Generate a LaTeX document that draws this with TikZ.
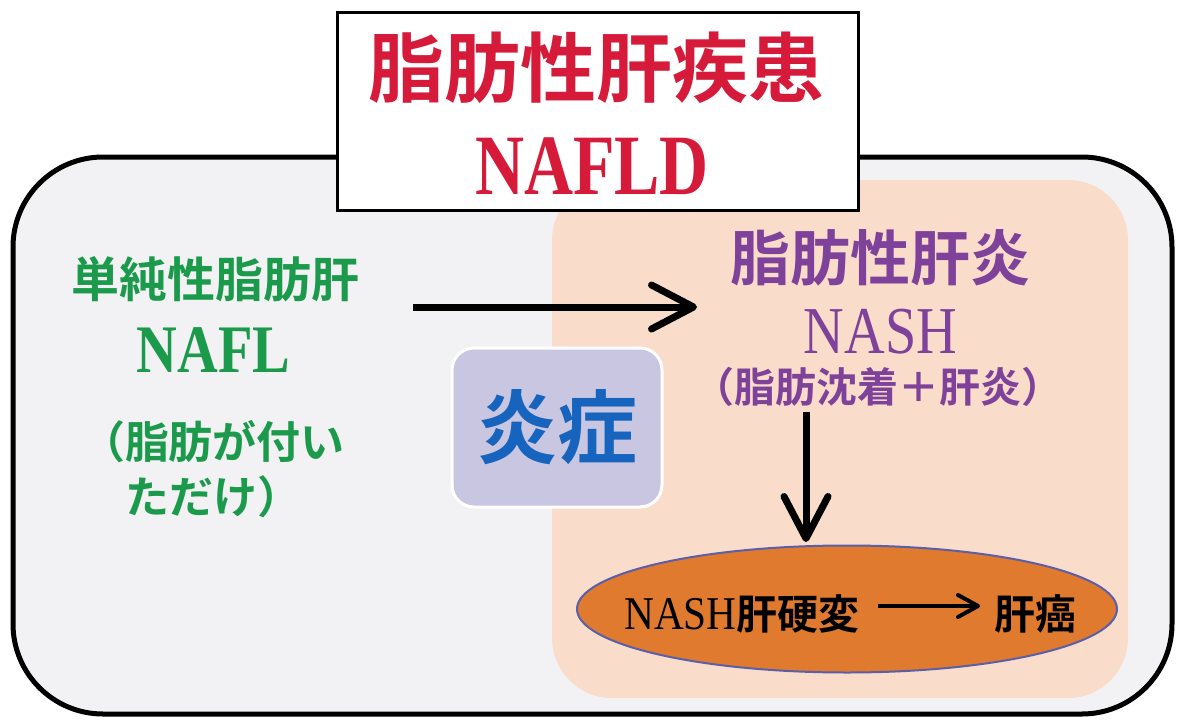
\documentclass[tikz,border=0pt]{standalone}
\usepackage{fontspec}
\newfontfamily\cjk{Noto Sans CJK JP}[BoldFont={Noto Sans CJK JP Bold}]
\newfontfamily\lserif{Liberation Serif}
\usetikzlibrary{arrows.meta,shapes.geometric}
\definecolor{titlered}{RGB}{214,26,58}
\definecolor{nafgreen}{RGB}{28,154,75}
\definecolor{nashpurple}{RGB}{126,66,154}
\definecolor{inflblue}{RGB}{22,100,190}
\definecolor{outerfill}{RGB}{242,242,245}
\definecolor{peach}{RGB}{249,220,202}
\definecolor{lavender}{RGB}{201,198,226}
\definecolor{ellorange}{RGB}{224,122,46}
\definecolor{ellborder}{RGB}{90,95,168}
\tikzset{
  txt/.style={inner sep=0pt, outer sep=0pt},
  bigarrow/.style={line width=7pt, -{Straight Barb[length=42pt,width=44pt,line cap=round,line join=round]}},
  smallarrow/.style={line width=4pt, -{Straight Barb[length=20pt,width=22pt,line cap=round,line join=round]}},
}
\newcommand{\fsz}[1]{\fontsize{#1}{#1}\selectfont}
\begin{document}
\begin{tikzpicture}[x=1pt,y=-1pt]
\useasboundingbox (0,0) rectangle (1179,720);
\fill[white] (0,0) rectangle (1179,720);
% outer frame
\node[draw=black, line width=5pt, fill=outerfill, rounded corners=90pt,
      minimum width=1159pt, minimum height=557pt, inner sep=0pt] (outer) at (592.5,435.5) {};
% peach region
\node[fill=peach, rounded corners=60pt, minimum width=576pt, minimum height=518pt, inner sep=0pt] (peachbox) at (840,439) {};
% inflammation box
\node[draw=white, line width=3pt, fill=lavender, rounded corners=22pt,
      minimum width=210pt, minimum height=159pt, inner sep=0pt] (inflbox) at (557,427.5) {};
\node[txt, text=inflblue] (infl) at (557,427) {\cjk\bfseries\fsz{80}炎症};
% title box
\node[draw=black, line width=3pt, fill=white, minimum width=521pt, minimum height=198pt, inner sep=0pt] (titlebox) at (597.5,111) {};
\node[txt, text=titlered] (title1) at (596.5,68) {\cjk\bfseries\fsz{76}脂肪性肝疾患};
\node[txt, text=titlered] (title2) at (592,166.5) {\scalebox{0.79}[1]{\lserif\bfseries\fsz{86}NAFLD}};
% NAFL
\node[txt, text=nafgreen] (nafl1) at (215,279) {\cjk\bfseries\fsz{48}単純性脂肪肝};
\node[txt, text=nafgreen] (nafl2) at (213.5,350.5) {\scalebox{0.83}[1]{\lserif\bfseries\fsz{68}NAFL}};
\node[txt, text=nafgreen] (nafl3) at (213,442) {\cjk\bfseries\fsz{44}（脂肪が付い};
\node[txt, text=nafgreen] (nafl4) at (213,497) {\cjk\bfseries\fsz{44}ただけ）};
% NASH
\node[txt, text=nashpurple] (nash1) at (880,257.5) {\cjk\bfseries\fsz{60}脂肪性肝炎};
\node[txt, text=nashpurple] (nash2) at (880.5,332) {\scalebox{0.84}[1]{\lserif\fsz{67}NASH}};
\node[txt, text=nashpurple] (nash3) at (877.5,387) {\cjk\bfseries\fsz{41}（脂肪沈着＋肝炎）};
% ellipse
\node[ellipse, draw=ellborder, line width=2pt, fill=ellorange, minimum width=540pt, minimum height=127pt, inner sep=0pt] (ell) at (847,609) {};
\node[txt, text=black] (cirr) at (742,614) {\fsz{41}\scalebox{0.88}[1]{\lserif\fsz{47}NASH}\cjk\bfseries 肝硬変};
\node[txt, text=black] (cancer) at (1035,614) {\cjk\bfseries\fsz{41}肝癌};
% arrows
\coordinate (h1) at (413,307);
\coordinate (h2) at (697,307);
\coordinate (v1) at (806,412);
\coordinate (v2) at (806,542);
\coordinate (s1) at (878,606);
\coordinate (s2) at (980,606);
\draw[bigarrow] (h1) -- (h2);
\draw[bigarrow] (v1) -- (v2);
\draw[smallarrow] (s1) -- (s2);
\end{tikzpicture}
\end{document}
